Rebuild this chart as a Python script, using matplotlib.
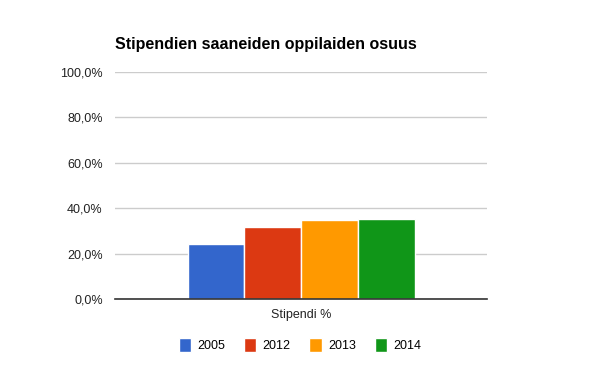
import matplotlib.pyplot as plt
from matplotlib.ticker import FuncFormatter

plt.rcParams['font.family'] = ['Liberation Sans', 'DejaVu Sans']

# data
category = 'Stipendi %'
years = ['2005', '2012', '2013', '2014']
values = [24.2, 31.6, 34.7, 35.2]
colors = ['#3366cc', '#dc3912', '#ff9900', '#109618']

fig = plt.figure(figsize=(6, 3.71), dpi=100)
ax = fig.add_axes([0.192, 0.194, 0.62, 0.612])

width = 0.25
for i, (yr, v, c) in enumerate(zip(years, values, colors)):
    ax.bar((i - 1.5) * width, v, width=width, color=c, edgecolor='white',
           linewidth=1, label=yr, zorder=3)

ax.set_xlim(-0.82, 0.82)
ax.set_ylim(0, 100)
ax.set_yticks([0, 20, 40, 60, 80, 100])
ax.yaxis.set_major_formatter(FuncFormatter(lambda v, p: f'{v:.1f}%'.replace('.', ',')))
ax.set_xticks([0])
ax.set_xticklabels([category])
ax.tick_params(axis='both', length=0, labelsize=9, colors='#222222')
ax.tick_params(axis='x', pad=7)
ax.tick_params(axis='y', pad=9)
ax.grid(axis='y', color='#cccccc', linewidth=1, zorder=0)
for s in ['top', 'right', 'left']:
    ax.spines[s].set_visible(False)
ax.spines['bottom'].set_color('#333333')
ax.spines['bottom'].set_linewidth(1.2)
ax.spines['bottom'].set_zorder(4)

fig.text(0.192, 0.86, 'Stipendien saaneiden oppilaiden osuus',
         fontsize=11.5, fontweight='bold', va='bottom', ha='left')

fig.legend(loc='center', bbox_to_anchor=(0.5, 0.07), ncol=4, frameon=False,
           fontsize=9, handlelength=1.0, handleheight=1.3, columnspacing=1.5,
           handletextpad=0.5)

fig.savefig('out.png', dpi=100)
